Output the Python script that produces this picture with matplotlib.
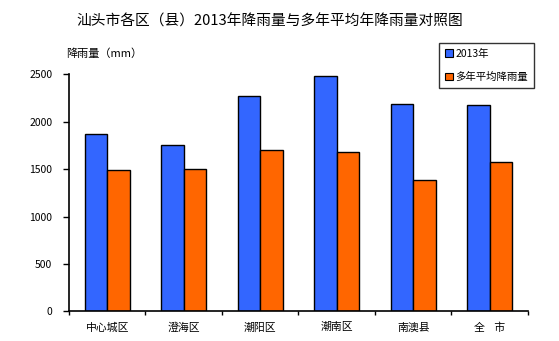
import numpy as np
import matplotlib
matplotlib.use("Agg")
import matplotlib.pyplot as plt
from matplotlib.patches import Patch

plt.rcParams["font.family"] = ["Noto Sans CJK SC", "DejaVu Sans"]

# rainfall by district (mm)
districts = ["中心城区", "澄海区", "潮阳区", "潮南区", "南澳县", "全    市"]
rain_2013 = [1867, 1751, 2268, 2482, 2184, 2173]
rain_avg = [1487, 1498, 1701, 1677, 1382, 1572]
series_names = ["2013年", "多年平均降雨量"]
colors = ["#3366FF", "#FF6600"]

fig = plt.figure(figsize=(5.59, 3.41), dpi=100)
ax = fig.add_axes([0.1234, 0.0871, 0.8211, 0.695])

x = np.arange(len(districts))
w = 0.295
ax.bar(x - w / 2, rain_2013, w, color=colors[0], edgecolor="black", linewidth=1.0)
ax.bar(x + w / 2, rain_avg, w, color=colors[1], edgecolor="black", linewidth=1.0)

ax.set_xlim(-0.5, len(districts) - 0.5)
ax.set_ylim(0, 2500)
ax.set_yticks(np.arange(0, 2501, 500))
ax.tick_params(axis="y", labelsize=7.5, length=4, width=1, pad=8)

# labels at the group centres, tick marks at the group boundaries
ax.set_xticks(x)
ax.set_xticklabels(districts, fontsize=7.8)
ax.set_xticks(np.arange(-0.5, len(districts)), minor=True)
ax.tick_params(axis="x", which="major", length=0, pad=8)
ax.tick_params(axis="x", which="minor", length=3, width=1)

for side in ["top", "right"]:
    ax.spines[side].set_visible(False)
for side in ["left", "bottom"]:
    ax.spines[side].set_linewidth(1.2)

fig.text(0.136, 0.938, "汕头市各区（县）2013年降雨量与多年平均年降雨量对照图",
         fontsize=10.6, va="center", ha="left")
fig.text(0.119, 0.842, "降雨量（mm）", fontsize=8, va="center", ha="left")

handles = [Patch(facecolor=c, edgecolor="black", linewidth=0.8) for c in colors]
leg = fig.legend(handles, series_names, loc="upper left",
                 bbox_to_anchor=(439 / 559, 1 - 42.7 / 341),
                 fontsize=7.5, frameon=True, fancybox=False,
                 handlelength=0.75, handleheight=0.75, handletextpad=0.25,
                 labelspacing=1.3, borderpad=0.55, borderaxespad=0)
leg.get_frame().set_edgecolor("black")
leg.get_frame().set_linewidth(1.0)

fig.savefig("out.png", dpi=100)
